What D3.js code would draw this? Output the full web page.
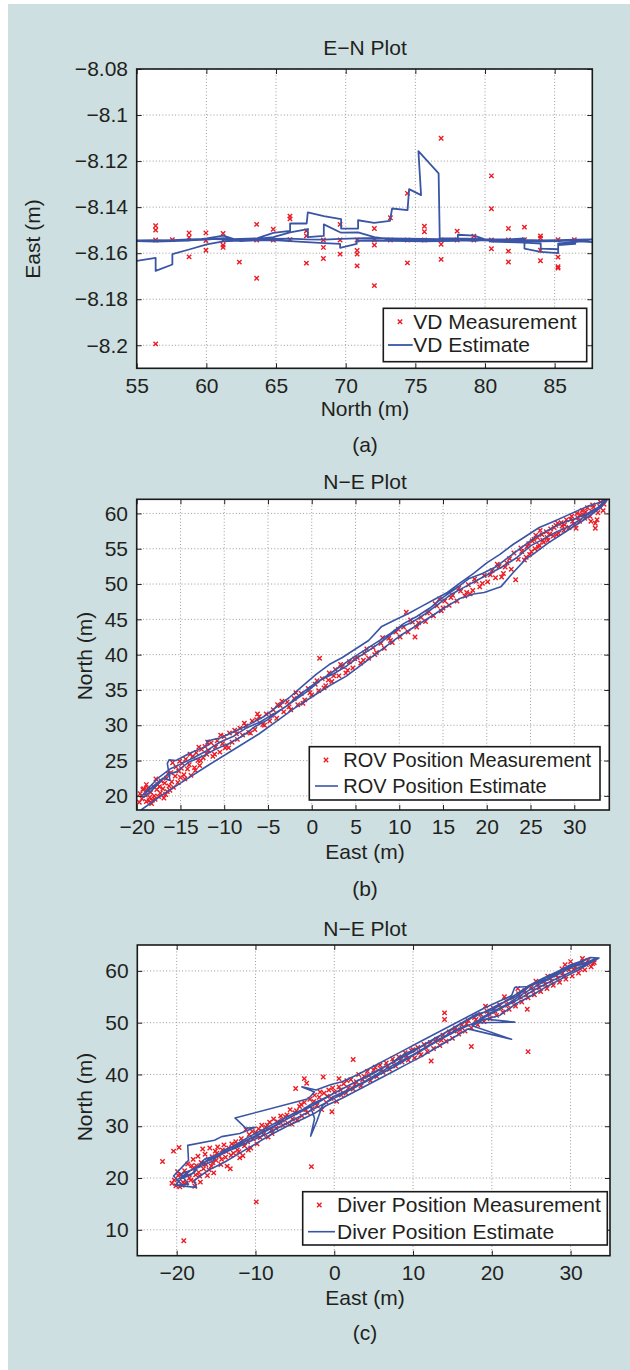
<!DOCTYPE html>
<html>
<head>
<meta charset="utf-8">
<script src="https://cdn.jsdelivr.net/npm/d3@7"></script>
<style>
  body { margin: 0; background: #ffffff; }
  svg { display: block; }
  text { font-family: "Liberation Sans", Arial, Helvetica, sans-serif; fill: #231f20; }
</style>
</head>
<body>
<script>
// ---------- Panel (a): vehicle-diver E-N plot ----------
const aTicksX = [55, 60, 65, 70, 75, 80, 85];
const aTicksY = [-8.2, -8.18, -8.16, -8.14, -8.12, -8.1, -8.08];

// measurements [North, East]
const vdMeasurement = [
  [56.36,-8.1481],[56.36,-8.1500],[56.36,-8.1543],[56.36,-8.1994],
  [57.56,-8.1541],[58.76,-8.1512],[58.76,-8.1532],[58.76,-8.1616],
  [59.97,-8.1512],[59.97,-8.1545],[59.97,-8.1587],
  [61.2,-8.1514],[61.2,-8.1545],[61.2,-8.1565],[61.2,-8.1575],
  [62.37,-8.1639],[63.61,-8.1475],[63.61,-8.1543],[63.61,-8.1709],
  [64.8,-8.1496],[64.8,-8.1543],[66.0,-8.1439],[66.0,-8.1451],[66.0,-8.1541],
  [67.18,-8.1503],[67.18,-8.1525],[67.18,-8.1643],
  [68.4,-8.1543],[68.4,-8.1575],[68.4,-8.1623],
  [69.6,-8.1475],[69.6,-8.1543],[69.6,-8.1604],
  [70.82,-8.1543],[70.82,-8.1588],[70.82,-8.1604],[70.82,-8.1655],
  [72.06,-8.1493],[72.06,-8.1543],[72.06,-8.1565],[72.06,-8.1741],
  [73.21,-8.1446],[73.21,-8.1543],[74.43,-8.1340],[74.43,-8.1543],[74.43,-8.1642],
  [75.65,-8.1483],[75.65,-8.1507],[75.65,-8.1543],
  [76.85,-8.1101],[76.85,-8.1543],[76.85,-8.1561],[76.85,-8.1627],
  [78.0,-8.1504],[78.0,-8.1543],[79.2,-8.1526],[79.2,-8.1543],
  [80.46,-8.1264],[80.46,-8.1407],[80.46,-8.1543],[80.46,-8.1581],
  [81.68,-8.1493],[81.68,-8.1543],[81.68,-8.1591],[81.68,-8.1638],
  [82.83,-8.1487],[82.83,-8.1541],
  [83.98,-8.1525],[83.98,-8.1535],[83.98,-8.1587],[83.98,-8.1633],
  [85.24,-8.1541],[85.24,-8.1617],[85.24,-8.1659],[85.24,-8.1665],
  [86.41,-8.1541]
];

// estimate track [North, East]
const vdEstimate = [
  [55.0,-8.1633],[56.36,-8.1620],[56.36,-8.1677],[57.56,-8.1649],[57.56,-8.1604],[58.76,-8.1584],
  [60.03,-8.1562],[61.22,-8.1549],[62.42,-8.1545],[63.62,-8.1541],[64.81,-8.1538],[66.01,-8.1537],
  [67.2,-8.1540],[68.45,-8.1541],[69.6,-8.1538],[70.79,-8.1536],[72.06,-8.1534],[73.21,-8.1536],
  [74.43,-8.1537],[75.6,-8.1538],[76.8,-8.1539],[78.05,-8.1541],[79.22,-8.1543],[80.46,-8.1545],
  [81.68,-8.1544],[82.83,-8.1542],[84.0,-8.1544],[85.25,-8.1543],[86.47,-8.1541],[87.7,-8.1540],
  [86.47,-8.1552],[85.25,-8.1557],[85.25,-8.1583],[84.0,-8.1580],[84.0,-8.1558],[82.83,-8.1554],
  [81.68,-8.1552],[80.46,-8.1550],[79.22,-8.1524],[78.05,-8.1520],[78.05,-8.1546],[76.8,-8.1548],
  [75.6,-8.1549],[74.43,-8.1548],[73.21,-8.1546],[72.06,-8.1545],[70.79,-8.1546],[70.79,-8.1560],
  [69.6,-8.1577],[69.6,-8.1560],[68.45,-8.1556],[67.2,-8.1552],[66.01,-8.1548],[64.81,-8.1543],
  [63.62,-8.1544],[62.42,-8.1548],[61.22,-8.1524],[60.03,-8.1536],[58.76,-8.1545],[57.56,-8.1547],
  [56.36,-8.1550],[55.0,-8.1548],
  [56.36,-8.1546],[57.56,-8.1543],[58.76,-8.1540],[60.03,-8.1538],[61.22,-8.1540],[62.42,-8.1538],
  [63.62,-8.1536],[64.81,-8.1512],[66.01,-8.1503],[66.01,-8.1471],[67.2,-8.1471],[67.28,-8.1423],
  [68.43,-8.1439],[69.67,-8.1452],[69.67,-8.1493],[70.89,-8.1493],[70.89,-8.1457],[72.04,-8.1468],
  [73.18,-8.1460],[73.33,-8.1406],[74.44,-8.1413],[74.55,-8.1322],[75.41,-8.1348],[75.22,-8.1157],
  [76.67,-8.1253],[76.75,-8.1535],[78.05,-8.1536],[79.22,-8.1538],[80.46,-8.1540],[81.68,-8.1540],
  [82.83,-8.1536],[82.83,-8.1580],[84.0,-8.1594],[85.25,-8.1600],[85.25,-8.1565],[86.47,-8.1560],
  [86.47,-8.1548],[87.7,-8.1552],
  [86.47,-8.1544],[85.25,-8.1548],[84.0,-8.1549],[82.83,-8.1546],[81.68,-8.1548],[80.46,-8.1541],
  [79.22,-8.1546],[78.05,-8.1544],[76.8,-8.1544],[75.6,-8.1544],[74.43,-8.1542],[73.21,-8.1540],
  [72.06,-8.1530],[70.89,-8.1510],[69.67,-8.1511],[68.43,-8.1475],[68.43,-8.1525],[67.28,-8.1530],
  [67.28,-8.1495],[66.01,-8.1510],[64.81,-8.1530],[63.62,-8.1538],[62.42,-8.1541],[61.22,-8.1535],
  [60.03,-8.1541],[58.76,-8.1544],[57.56,-8.1545],[56.36,-8.1543],[55.0,-8.1544]
];

// ---------- Panel (b): ROV N-E plot ----------
const bTicksX = [-20, -15, -10, -5, 0, 5, 10, 15, 20, 25, 30];
const bTicksY = [20, 25, 30, 35, 40, 45, 50, 55, 60];

// measurements [East, North]
const rovMeasurement = [
  [-19.6,20.3],[-19.4,19.6],[-19.2,21.0],[-19.0,20.1],[-18.9,19.2],[-18.8,20.8],[-18.7,21.1],[-18.5,19.8],
  [-18.4,20.5],[-18.3,18.9],[-18.1,21.3],[-18.0,20.0],[-17.9,19.5],[-17.7,20.9],[-17.6,21.6],[-17.5,19.9],
  [-17.3,20.4],[-17.2,22.1],[-17.0,21.0],[-16.9,19.7],[-16.8,21.8],[-16.6,22.5],[-16.5,20.6],[-16.3,21.4],
  [-16.1,23.3],[-16.0,22.0],[-15.8,21.2],[-15.6,22.8],[-15.5,24.1],[-15.3,21.9],[-15.2,23.5],[-15.0,22.6],
  [-14.8,24.6],[-14.6,23.0],[-14.4,25.2],[-14.2,23.8],[-14.0,24.4],[-13.8,22.9],[-13.6,25.6],[-13.4,24.0],
  [-13.2,26.1],[-13.0,25.0],[-12.8,24.3],[-12.6,26.6],[-12.4,25.4],[-12.2,27.0],[-12.0,25.9],[-11.8,26.4],
  [-11.5,27.5],[-11.3,25.6],[-11.0,26.9],[-10.8,27.8],[-10.5,26.2],[-10.2,27.4],[-10.0,28.4],[-9.7,27.1],
  [-9.4,28.9],[-9.1,27.6],[-8.8,29.3],[-8.5,28.0],[-8.2,29.6],[-7.9,28.6],[-7.5,29.9],[-7.2,29.0],
  [-6.8,30.6],[-6.5,29.4],[-6.0,31.2],[-5.6,30.1],[-5.2,31.6],[-4.8,30.6],[-4.4,32.2],[-4.0,31.0],
  [-3.6,32.8],[-3.2,31.9],[-2.8,33.3],[-2.4,32.2],[-2.0,33.8],[-1.6,32.9],[-1.2,34.5],[-0.8,33.6],
  [-0.4,35.2],[0.0,34.3],[0.4,35.8],[0.9,39.5],[0.8,34.9],[1.2,36.6],[1.6,35.6],[2.0,37.4],
  [2.3,36.2],[2.7,37.9],[3.1,37.0],[3.5,38.3],[3.9,37.4],[4.3,39.0],[4.7,38.1],[5.2,39.6],
  [5.6,38.8],[6.0,40.2],[6.5,39.5],[7.0,41.0],[7.4,40.3],[7.9,41.6],[8.3,40.9],[8.8,42.3],
  [9.2,41.7],[9.6,43.2],[10.1,42.5],[10.5,43.9],[10.8,46.0],[11.0,43.2],[11.5,44.6],[11.8,42.5],
  [12.0,43.9],[12.5,45.3],[13.0,44.7],[13.4,46.1],[13.9,45.5],[14.3,46.9],[14.8,46.2],[15.2,47.6],
  [15.7,47.0],[16.1,48.4],[16.6,47.6],[17.0,49.0],[17.5,48.3],[17.9,49.9],[18.4,49.1],[18.8,50.4],
  [19.2,49.6],[19.7,51.2],[20.1,50.3],[20.6,51.9],[21.0,50.9],[21.4,52.5],[21.9,51.5],[22.3,53.0],
  [22.8,52.1],[23.3,50.6],[23.6,53.5],[24.0,54.6],[24.3,53.4],[24.6,55.3],[24.9,54.2],[25.2,56.1],
  [25.5,55.0],[25.8,56.6],[26.0,55.5],[26.3,57.0],[26.5,55.9],[26.8,57.4],[27.0,56.2],[27.3,57.8],
  [27.6,56.8],[27.9,58.3],[28.2,57.2],[28.5,58.7],[28.8,57.6],[29.1,59.1],[29.4,58.0],[29.7,59.6],
  [30.0,58.4],[30.3,60.0],[30.6,58.9],[30.9,60.4],[31.2,59.3],[31.5,60.8],[31.8,59.6],[32.1,61.2],
  [32.4,58.6],[32.4,57.9],[32.7,60.1],[33.0,61.6],[33.3,60.4],[33.5,62.0],[25.4,56.3],[26.1,57.6],
  [26.9,56.6],[27.7,58.0],[28.6,58.2],[29.8,58.9],[31.0,59.8],[32.0,60.3],[24.5,53.8],[25.9,55.2],
  [-18.6,19.3],[-17.8,22.4],[-16.2,20.8],[-14.9,23.9],[-12.9,26.9],[-9.9,26.8],[-6.3,30.8],[-3.9,32.9],
  [1.9,36.4],[5.9,39.2],[14.6,47.9],[18.1,48.6],[21.7,51.0],[25.1,54.6],[28.0,57.0],[30.7,59.8],
  [-19.7,19.1],[-19.3,20.9],[-18.9,21.6],[-18.2,19.4],[-17.4,21.3],[-16.7,20.2],[-16.4,23.1],[-15.9,24.7],
  [-15.1,24.9],[-14.5,22.4],[-13.9,25.9],[-13.3,23.6],[-12.7,25.0],[-11.9,27.6],[-11.1,25.9],[-10.4,28.6],
  [-9.5,26.8],[-8.6,28.8],[-7.7,30.3],[-7.0,28.9],[-6.2,31.6],[-5.4,30.0],[-4.6,31.4],[-3.4,33.4],
  [-2.6,32.6],[-1.8,34.6],[-1.0,33.1],[-0.2,34.6],[0.6,36.3],[1.4,35.3],[2.5,37.0],[3.3,38.6],
  [4.1,37.8],[4.9,39.4],[6.3,40.8],[7.2,40.0],[8.1,42.4],[9.0,42.0],[9.9,43.6],[11.3,44.9],
  [12.2,44.5],[13.2,45.9],[14.1,47.2],[15.0,46.6],[15.9,48.1],[16.8,49.4],[17.7,48.8],[18.6,50.7],
  [19.5,50.1],[20.4,51.3],[21.2,52.8],[22.1,52.4],[22.6,53.6],[23.1,54.4],[23.9,55.1],[24.8,55.7],
  [25.6,56.9],[26.4,56.2],[27.2,57.1],[28.1,58.6],[28.9,58.4],[29.6,59.2],[30.4,59.4],[31.3,60.2],
  [32.2,60.9],[32.9,61.0],[33.4,61.3],[31.9,58.9],[32.6,59.1],[30.2,57.9]
];

// estimate track [East, North]
const rovEstimate = [
  [-19.5,18.0],[-17,20.2],[-15,21.8],[-12,24.2],[-9,26.5],[-6,28.8],[-4,30.6],[-2,32.4],[0,34.0],
  [2,35.6],[4,37.0],[7,39.8],[10,42.6],[13,44.9],[15,46.5],[17,48.0],[18.5,48.6],[19.7,48.8],
  [21.6,49.6],[23,51.6],[24.5,53.6],[25.5,54.4],[27,55.8],[29,57.4],[31,59.0],[33,60.8],[33.8,62.0],
  [33.5,61.8],[31.5,61.0],[29.5,59.9],[27.5,58.8],[26,58.0],[24.5,56.8],[23,55.6],[21.5,54.2],
  [20,53.0],[18.5,51.5],[17,50.2],[15.5,48.8],[14,47.8],[12.5,46.8],[11,45.8],[9.5,44.9],[8,44.0],
  [6.5,42.0],[5,40.8],[3.5,39.6],[2,38.6],[0.5,37.2],[-1,35.6],[-2.5,34.0],[-4,32.6],[-5.5,31.2],
  [-7,30.2],[-9,29.0],[-10.5,28.2],[-11.5,27.9],[-12,27.8],[-11.8,27.2],[-12.5,26.8],[-14,26.0],
  [-15.5,25.0],[-16.3,25.1],[-16.5,24.6],[-16.2,22.2],[-17,22.5],[-18,21.5],[-19,20.4],[-19.5,20.0],
  [-19.2,19.8],[-18.5,20.5],[-17.5,21.8],[-16.5,23.0],[-15.5,23.4],[-14,24.8],[-12.5,25.6],[-11,26.6],
  [-9.5,27.4],[-8,28.4],[-6.5,29.8],[-5,30.8],[-3.5,32.2],[-2,33.5],[-0.5,34.8],[1,36.4],[2.5,37.3],
  [4,38.4],[5.5,39.8],[7,41.0],[8.5,42.3],[10,43.8],[11.5,44.6],[13,45.8],[14.5,47.2],[16,48.6],
  [17.5,49.6],[19,50.6],[20.5,51.6],[22,52.6],[23.5,53.8],[25,55.4],[26.5,56.4],[28,57.4],[29.5,58.2],
  [31,59.4],[32.5,60.6],[33.6,61.9],
  [33.2,61.2],[31.5,60.0],[30,59.2],[28.5,58.6],[27,57.6],[25.5,56.6],[24,55.2],[22.5,53.8],[21,52.4],
  [19.5,51.5],[18,50.8],[16.5,49.4],[15,48.1],[13.5,46.6],[12,45.4],[10.5,44.4],[9,43.0],[7.5,41.8],
  [6,40.6],[4.5,39.4],[3,38.1],[1.5,36.8],[0,35.6],[-1.5,34.2],[-3,32.6],[-4.5,31.5],[-6,30.4],
  [-7.5,29.6],[-9,28.4],[-10.5,27.6],[-12,26.4],[-13.5,25.4],[-15,24.5],[-16.2,23.8],[-17.5,22.6],
  [-18.5,21.3],[-19.3,20.1]
];

// ---------- Panel (c): diver N-E plot ----------
const cTicksX = [-20, -10, 0, 10, 20, 30];
const cTicksY = [10, 20, 30, 40, 50, 60];

// measurements [East, North]
const diverMeasurement = [
  [-21.8,23.2],[-20.4,25.2],[-19.7,25.9],[-19.1,7.9],[-20.3,19.6],[-20.1,18.5],[-19.8,20.5],[-19.6,18.3],
  [-19.4,20.7],[-19.2,19.2],[-19.0,21.4],[-18.8,19.0],[-18.6,22.7],[-18.4,20.0],[-18.2,19.6],[-18.0,21.8],
  [-17.9,23.6],[-17.8,19.4],[-17.6,20.6],[-17.5,22.4],[-17.3,24.2],[-17.2,21.1],[-17.0,19.2],[-16.9,23.0],
  [-16.7,25.6],[-16.6,21.8],[-16.4,24.6],[-16.3,22.6],[-16.1,20.5],[-16.0,23.6],[-15.8,25.8],[-15.6,22.3],
  [-15.5,24.1],[-15.3,21.0],[-15.1,25.2],[-15.0,23.4],[-14.8,26.0],[-14.6,24.3],[-14.4,22.6],[-14.2,25.4],
  [-14.0,26.4],[-13.8,24.0],[-13.6,22.3],[-13.4,25.8],[-13.2,21.8],[-13.0,26.6],[-12.8,24.8],[-12.5,27.0],
  [-12.3,25.4],[-12.0,23.9],[-11.8,27.6],[-11.6,24.3],[-11.4,26.2],[-11.2,29.4],[-11.0,27.0],[-10.8,28.4],
  [-10.6,25.8],[-10.3,27.6],[-10.0,28.8],[-9.9,15.4],[-9.8,26.6],[-9.6,29.5],[-9.4,27.8],[-9.2,30.2],
  [-9.0,28.4],[-8.7,29.8],[-8.4,27.9],[-8.2,30.8],[-8.0,29.2],[-7.7,31.4],[-7.4,29.6],[-7.1,30.6],
  [-6.8,32.0],[-6.5,30.2],[-6.2,31.8],[-5.9,30.6],[-5.6,33.2],[-5.3,31.4],[-5.0,32.6],[-4.9,37.3],
  [-4.7,31.2],[-4.4,33.8],[-4.1,32.0],[-3.8,39.2],[-3.5,38.3],[-3.8,34.6],[-3.4,32.6],[-3.1,35.2],
  [-2.9,22.2],[-2.8,33.4],[-2.5,36.0],[-2.2,34.0],[-1.9,35.6],[-1.6,33.2],[-1.4,39.5],[-1.3,36.4],
  [-1.0,34.6],[-0.7,37.0],[-0.4,35.4],[-0.3,32.8],[0.0,36.6],[0.3,34.8],[0.6,39.2],[0.6,37.6],
  [0.9,36.0],[1.2,38.2],[1.5,36.4],[1.8,37.4],[2.1,39.0],[2.4,42.9],[2.4,37.2],[2.8,38.6],
  [3.1,40.0],[3.4,37.8],[3.8,39.6],[4.2,40.6],[4.6,38.8],[5.0,40.8],[5.4,39.6],[5.8,41.8],
  [6.2,40.4],[6.6,42.2],[7.0,41.0],[7.4,43.0],[7.8,41.6],[8.2,43.4],[8.6,42.4],[9.0,44.2],
  [9.4,42.8],[9.8,44.6],[10.2,43.2],[10.6,45.2],[11.0,43.8],[11.4,45.8],[11.8,44.4],[12.3,42.6],
  [12.2,46.2],[12.6,45.0],[13.0,46.8],[13.4,45.6],[13.8,47.6],[14.0,51.9],[14.0,50.6],[14.2,46.4],
  [14.6,48.2],[15.0,47.0],[15.4,49.0],[15.8,47.8],[16.2,49.6],[16.6,48.4],[17.0,50.4],[17.4,45.4],
  [17.4,49.0],[17.8,51.0],[18.2,49.6],[18.6,51.6],[19.0,50.2],[19.4,52.2],[19.8,50.8],[20.2,52.8],
  [20.6,51.4],[21.0,53.4],[21.4,52.0],[21.8,54.2],[22.2,52.6],[22.6,54.8],[23.0,53.2],[23.4,55.6],
  [23.8,54.0],[24.2,56.2],[24.6,44.4],[24.5,52.6],[24.6,54.8],[25.0,56.8],[25.4,55.4],[25.8,57.4],
  [26.2,56.0],[26.6,58.0],[27.0,56.6],[27.4,58.6],[27.8,57.2],[28.2,59.2],[28.6,57.8],[29.0,59.6],
  [29.4,58.4],[29.8,60.2],[30.2,59.0],[30.6,60.8],[31.0,59.6],[31.4,61.4],[31.8,60.2],[32.2,62.0],
  [32.6,60.8],[33.0,61.6],[30.0,61.8],[29.3,61.2],[31.5,62.4],
  [-20.6,19.0],[-19.9,21.2],[-19.3,18.6],[-18.7,20.8],[-18.1,22.4],[-17.7,18.4],[-17.1,20.4],[-16.5,22.9],
  [-15.9,21.6],[-15.4,23.0],[-14.9,24.8],[-14.3,23.6],[-13.7,25.1],[-13.1,24.4],[-12.7,26.2],[-12.1,25.1],
  [-11.5,26.8],[-10.9,25.4],[-10.4,29.0],[-9.7,28.2],[-9.1,29.0],[-8.5,30.2],[-7.9,28.6],[-7.2,30.9],
  [-6.6,31.2],[-6.0,32.2],[-5.4,30.4],[-4.8,33.0],[-4.2,34.2],[-3.6,33.2],[-2.6,34.8],[-1.8,36.6],
  [-0.9,35.8],[-0.2,37.4],[0.8,37.0],[1.6,38.8],[2.6,38.0],[3.6,39.0],[4.4,39.8],[5.2,41.4],
  [6.0,41.0],[6.8,41.6],[7.6,42.4],[8.4,42.8],[9.2,43.6],[10.0,44.8],[10.8,44.2],[11.6,45.2],
  [12.8,46.4],[13.6,46.6],[15.2,48.4],[16.0,48.6],[16.8,49.8],[18.0,50.6],[18.8,50.8],[19.6,51.6],
  [20.4,52.2],[21.2,52.8],[22.0,53.4],[22.8,54.0],[23.6,55.0],[24.4,55.4],[25.2,56.2],[26.0,56.8],
  [26.8,57.4],[27.6,58.0],[28.4,58.6],[29.2,59.0],[30.4,60.2],[31.2,60.4],[32.0,61.2],[32.8,61.4],
  [28.9,60.4],[27.1,59.0],[25.6,58.0],[23.3,56.6],[21.6,55.0],[19.2,53.2]
];

// estimate track [East, North]
const diverEstimate = [
  [-20.3,18.6],[-17.5,18.2],[-17.8,19.5],[-16,21.5],[-14,23.0],[-12,24.8],[-10,26.6],[-8,28.4],
  [-6,30.0],[-4,31.4],[-2.5,32.5],[-1,34.0],[1,35.4],[3,37.0],[5,38.6],[7,40.2],[9,41.8],[11,43.4],
  [13,45.2],[15,47.0],[17,48.8],[22.5,46.8],[17.5,49.4],[19,50.6],[21,51.4],[23,53.6],[25,55.2],
  [27,57.0],[29,58.6],[31,60.2],[33.6,62.5],
  [32.5,62.6],[30.5,61.4],[28.5,60.0],[26.5,58.6],[24.5,57.0],[22.9,56.8],[22.5,55.2],[21,54.2],
  [19,52.8],[17,51.2],[15,49.6],[13,48.0],[11,46.4],[9,44.8],[7,43.2],[5,41.6],[3,40.0],[1,38.6],
  [-0.5,38.0],[-2.3,37.0],[-4.1,37.6],[-2.5,36.6],[-3.3,35.3],[-12.6,31.6],[-11.2,29.6],[-10,29.8],
  [-12,28.6],[-14.3,28.0],[-15.2,27.3],[-18.6,26.3],[-18.5,23.4],[-20.4,20.4],[-19.5,19.0],
  [-20.0,19.6],[-18.5,21.2],[-17,22.6],[-15,24.4],[-13,26.0],[-11,27.8],[-9,29.4],[-7,31.0],
  [-5,32.6],[-3,33.8],[-2.5,31.5],[-3.0,28.1],[-2.2,31.0],[-1.5,34.0],[0,35.8],[2,37.2],[4,38.8],
  [6,40.6],[8,42.2],[10,43.8],[12,45.6],[14,47.4],[16,49.0],[18,50.0],[22.9,50.1],[18.5,50.8],
  [20,52.0],[22,53.6],[24,55.6],[26,57.4],[28,59.0],[30,60.6],[32,61.6],[33.2,62.4],
  [31.5,61.0],[29.5,59.4],[27.5,58.0],[25.5,56.4],[23.5,54.6],[21.5,53.0],[19.5,51.4],[17.5,49.8],
  [15.5,48.4],[13.5,46.8],[11.5,45.0],[9.5,43.2],[7.5,41.4],[5.5,39.8],[3.5,38.2],[1.5,36.6],
  [-0.5,35.0],[-2.5,33.4],[-4.5,31.8],[-6.5,30.2],[-8.5,28.6],[-10.5,27.2],[-12.5,25.8],[-14.5,24.6],
  [-16.5,23.6],[-17.8,21.0],[-19.2,20.2],[-20.2,18.6],[-18.5,18.8],
  [-19.5,20.8],[-17,22.2],[-15.5,23.2],[-14,25.4],[-12,26.6],[-10,28.0],[-8,29.6],[-6,31.4],
  [-4,33.0],[-2,34.6],[0,36.4],[2,38.0],[4,39.6],[6,41.2],[8,42.8],[10,44.4],[12,46.2],[14,48.0],
  [16,49.8],[18,51.6],[20,52.4],[22,54.4],[24,56.4],[26,58.0],[28,59.6],[30,61.2],[32,62.2],
  [31,61.4],[29,60.2],[27,58.4],[25,57.2],[23,55.0],[21,53.6],[19,52.0],[17,50.6],[15,48.8],
  [13,47.2],[11,45.4],[9,44.0],[7,42.0],[5,40.2],[3,38.8],[1,37.2],[-1,35.6],[-3,34.2],[-5,32.2],
  [-7,30.6],[-9,29.0],[-11,27.4],[-13,25.6],[-15,24.0],[-16.8,22.8],[-18.2,20.6],[-19.6,19.8]
];

// ---------- drawing ----------
const W = 630, H = 1370;
const FS = 21;
const RED = "#ec1c24";
const BLUE = "#3a55a5";
const fmt = v => String(v).replace("-", "\u2212");

const svg = d3.select("body").append("svg").attr("width", W).attr("height", H);
svg.append("rect").attr("x", 8).attr("y", 4).attr("width", W - 8).attr("height", H - 4).attr("fill", "#cddfe0");

const cross = "M-2.2,-2.2L2.2,2.2M-2.2,2.2L2.2,-2.2";

function panel(p) {
  const g = svg.append("g");
  const x = d3.scaleLinear().domain(p.xDomain).range([p.left, p.right]);
  const y = d3.scaleLinear().domain(p.yDomain).range([p.bottom, p.top]);
  const w = p.right - p.left, h = p.bottom - p.top;

  g.append("rect").attr("x", p.left).attr("y", p.top).attr("width", w).attr("height", h).attr("fill", "#fff");

  // dotted grid
  const grid = g.append("g").attr("stroke", "#9a9a9a").attr("stroke-width", 1).attr("stroke-dasharray", "1,2.2");
  grid.selectAll("line.gx").data(p.xTicks).join("line").attr("class", "gx")
    .attr("x1", d => x(d)).attr("x2", d => x(d)).attr("y1", p.top).attr("y2", p.bottom);
  grid.selectAll("line.gy").data(p.yTicks).join("line").attr("class", "gy")
    .attr("x1", p.left).attr("x2", p.right).attr("y1", d => y(d)).attr("y2", d => y(d));

  // plotted data, clipped to the axes box
  const clipId = "clip-" + p.id;
  svg.append("clipPath").attr("id", clipId).append("rect")
    .attr("x", p.left).attr("y", p.top).attr("width", w).attr("height", h);
  const plot = g.append("g").attr("clip-path", `url(#${clipId})`);

  plot.selectAll("path.m").data(p.meas).join("path").attr("class", "m")
    .attr("d", cross).attr("transform", d => `translate(${x(d[0])},${y(d[1])})`)
    .attr("stroke", RED).attr("stroke-width", 1.4).attr("fill", "none");

  const line = d3.line().x(d => x(d[0])).y(d => y(d[1]));
  plot.append("path").datum(p.est).attr("d", line)
    .attr("fill", "none").attr("stroke", BLUE).attr("stroke-width", p.lw).attr("stroke-linejoin", "round");

  // axes: labelled bottom/left, tick-only top/right, ticks pointing inward
  const styleAxis = sel => {
    sel.select(".domain").remove();
    sel.selectAll(".tick line").attr("stroke", "#222").attr("stroke-width", 1);
    sel.selectAll(".tick text").style("font-size", FS + "px").attr("fill", "#231f20");
  };
  g.append("g").attr("transform", `translate(0,${p.bottom})`)
    .call(d3.axisBottom(x).tickValues(p.xTicks).tickFormat(fmt).tickSize(-5).tickPadding(9.5))
    .call(styleAxis);
  g.append("g").attr("transform", `translate(0,${p.top})`)
    .call(d3.axisTop(x).tickValues(p.xTicks).tickFormat("").tickSize(-5))
    .call(styleAxis);
  g.append("g").attr("transform", `translate(${p.left},0)`)
    .call(d3.axisLeft(y).tickValues(p.yTicks).tickFormat(fmt).tickSize(-5).tickPadding(8.7))
    .call(styleAxis);
  g.append("g").attr("transform", `translate(${p.right},0)`)
    .call(d3.axisRight(y).tickValues(p.yTicks).tickFormat("").tickSize(-5))
    .call(styleAxis);

  g.append("rect").attr("x", p.left).attr("y", p.top).attr("width", w).attr("height", h)
    .attr("fill", "none").attr("stroke", "#1a1a1a").attr("stroke-width", 1.6);

  // legend
  const L = p.legend;
  const lg = g.append("g");
  lg.append("rect").attr("x", L.x0).attr("y", L.y0).attr("width", L.x1 - L.x0).attr("height", L.y1 - L.y0)
    .attr("fill", "#fff").attr("stroke", "#1a1a1a").attr("stroke-width", 1.6);
  lg.append("path").attr("d", cross).attr("transform", `translate(${L.mx},${L.r1})`)
    .attr("stroke", RED).attr("stroke-width", 1.4).attr("fill", "none");
  lg.append("line").attr("x1", L.l0).attr("x2", L.l1).attr("y1", L.r2).attr("y2", L.r2)
    .attr("stroke", BLUE).attr("stroke-width", p.lw);
  lg.append("text").attr("x", L.tx).attr("y", L.r1).attr("dy", "0.35em").style("font-size", L.fs + "px").text(L.t1);
  lg.append("text").attr("x", L.tx).attr("y", L.r2).attr("dy", "0.35em").style("font-size", L.fs + "px").text(L.t2);

  // titles and labels
  const cx = 365;
  const txt = (tx, ty, s) => g.append("text").attr("x", tx).attr("y", ty).attr("dy", "0.35em")
    .attr("text-anchor", "middle").style("font-size", FS + "px").text(s);
  txt(cx, p.titleY, p.title);
  txt(cx, p.xlabelY, p.xlabel);
  txt(cx, p.capY, p.caption);
  g.append("text").attr("transform", `translate(${p.ylabelX},${p.ylabelY}) rotate(-90)`)
    .attr("dy", "0.35em").attr("text-anchor", "middle").style("font-size", FS + "px").text(p.ylabel);
}

panel({
  id: "a", left: 136.7, right: 592.3, top: 69, bottom: 368.3,
  xDomain: [55, 87.7], yDomain: [-8.21, -8.08], xTicks: aTicksX, yTicks: aTicksY,
  meas: vdMeasurement, est: vdEstimate, lw: 1.8,
  title: "E\u2212N Plot", titleY: 47.7, xlabel: "North (m)", xlabelY: 409, caption: "(a)", capY: 445,
  ylabel: "East (m)", ylabelX: 33, ylabelY: 239,
  legend: { x0: 383.3, y0: 308.3, x1: 586.7, y1: 361.7, mx: 400, r1: 321.7, r2: 345, l0: 388, l1: 412.7, tx: 413.3,
            fs: 21, t1: "VD Measurement", t2: "VD Estimate" }
});

panel({
  id: "b", left: 136.7, right: 609.3, top: 499.3, bottom: 810,
  xDomain: [-20, 34], yDomain: [18, 62], xTicks: bTicksX, yTicks: bTicksY,
  meas: rovMeasurement, est: rovEstimate, lw: 1.6,
  title: "N\u2212E Plot", titleY: 481.7, xlabel: "East (m)", xlabelY: 851.7, caption: "(b)", capY: 888.3,
  ylabel: "North (m)", ylabelX: 85, ylabelY: 656,
  legend: { x0: 309.3, y0: 746.7, x1: 600, y1: 800, mx: 326, r1: 760, r2: 786, l0: 315, l1: 338, tx: 343.3,
            fs: 20, t1: "ROV Position Measurement", t2: "ROV Position Estimate" }
});

panel({
  id: "c", left: 137.3, right: 610, top: 945, bottom: 1255.7,
  xDomain: [-25, 35], yDomain: [5, 65], xTicks: cTicksX, yTicks: cTicksY,
  meas: diverMeasurement, est: diverEstimate, lw: 1.6,
  title: "N\u2212E Plot", titleY: 929, xlabelY: 1298, xlabel: "East (m)", caption: "(c)", capY: 1333,
  ylabel: "North (m)", ylabelX: 85, ylabelY: 1097,
  legend: { x0: 302.7, y0: 1191.7, x1: 607.3, y1: 1245, mx: 319.3, r1: 1205, r2: 1231.7, l0: 308, l1: 335, tx: 337,
            fs: 21, t1: "Diver Position Measurement", t2: "Diver Position Estimate" }
});
</script>
</body>
</html>
